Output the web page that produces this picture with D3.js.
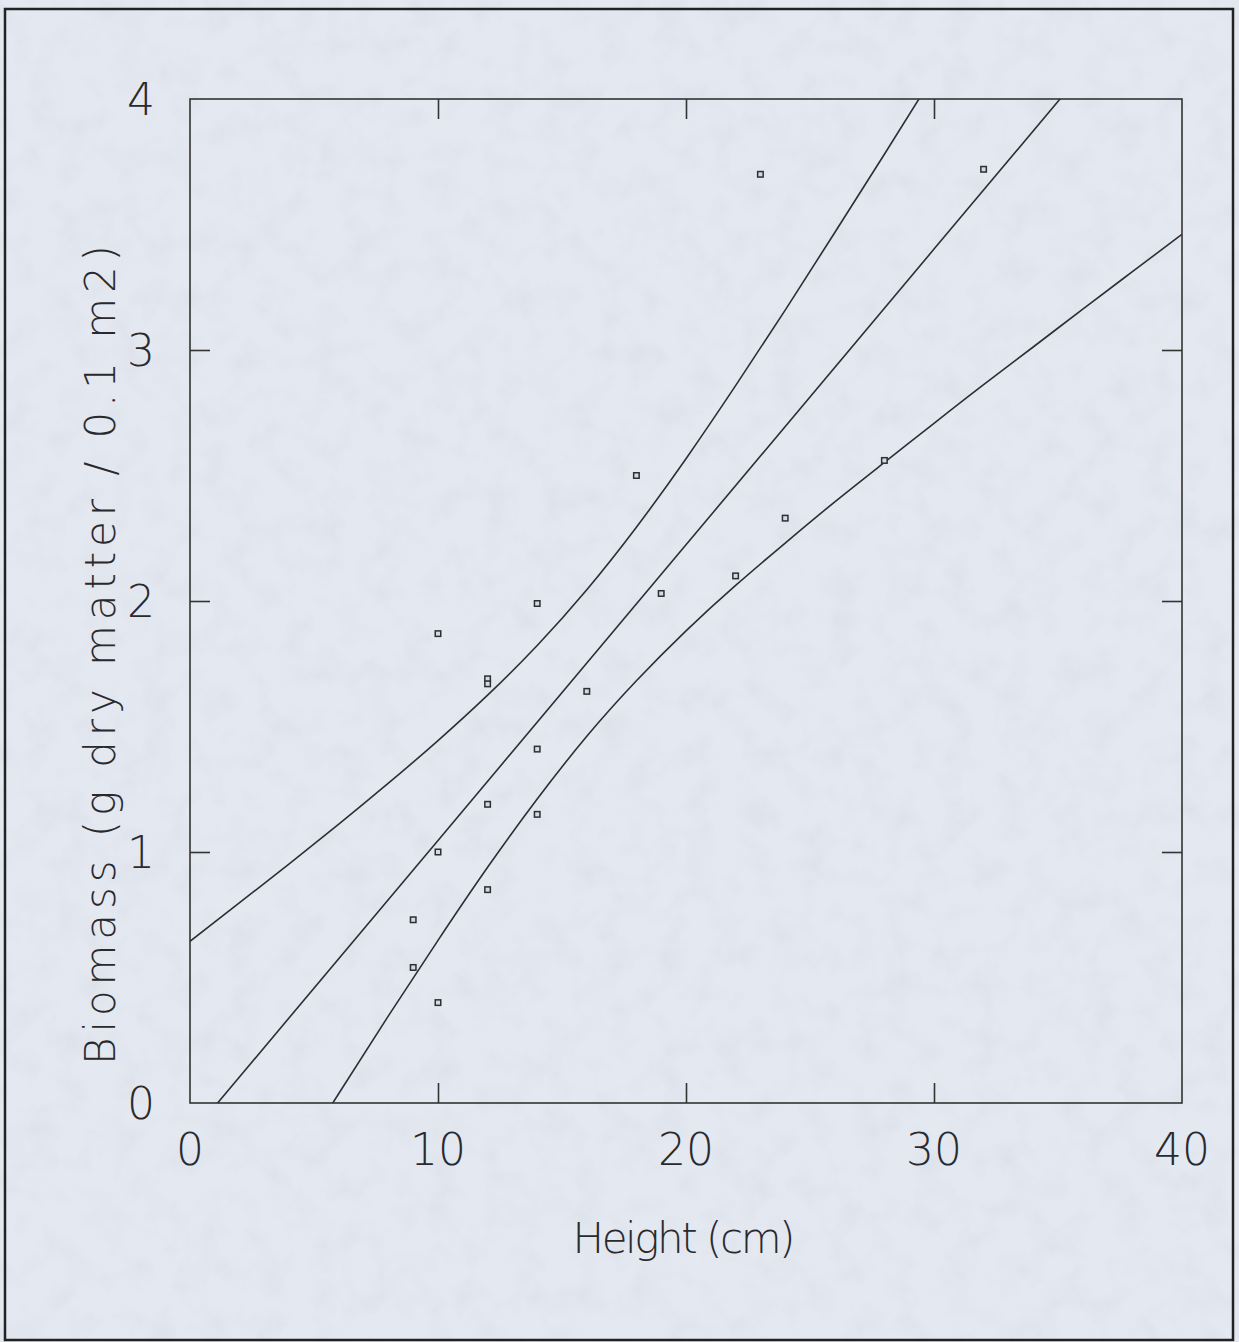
<!DOCTYPE html>
<html lang="en">
<head>
<meta charset="UTF-8">
<title>Biomass vs height</title>
<script src="https://d3js.org/d3.v7.min.js"></script>
<style>
  html, body { margin: 0; padding: 0; background: #e1e5ee; }
  svg { display: block; }
  text { font-family: "DejaVu Sans", "Lato", sans-serif; font-weight: 200; fill: #2a2a2e; }
</style>
</head>
<body>
<div id="chart"></div>
<script>
// observed points (height in cm, biomass in g / 0.1 m2)
const heights = [9, 9, 10, 10, 10, 12, 12, 12, 12, 14, 14, 14, 16, 18, 19, 22, 23, 24, 28, 32];
const biomass = [0.73, 0.54, 1.87, 1.00, 0.40, 1.69, 1.67, 1.19, 0.85, 1.99, 1.41, 1.15, 1.64, 2.50, 2.03, 2.10, 3.70, 2.33, 2.56, 3.72];

// fitted line and the two band curves
const fitX = [0, 10, 20, 30, 40];
const fitY = [-0.131, 1.046, 2.224, 3.402, 4.579];

const upperX = [0, 2, 4, 6, 8, 10, 12, 14, 16, 18, 20, 22, 24, 26, 28, 30];
const upperY = [0.644, 0.798, 0.953, 1.111, 1.274, 1.444, 1.625, 1.823, 2.045, 2.294, 2.567, 2.858, 3.159, 3.468, 3.780, 4.096];

const lowerX = [4, 6, 8, 10, 12, 14, 16, 18, 20, 22, 24, 26, 28, 30, 32, 34, 36, 38, 40];
const lowerY = [-0.275, 0.038, 0.347, 0.648, 0.939, 1.211, 1.461, 1.682, 1.881, 2.062, 2.231, 2.395, 2.552, 2.708, 2.862, 3.012, 3.163, 3.312, 3.461];

const xTicks = [0, 10, 20, 30, 40];
const yTicks = [0, 1, 2, 3, 4];
const xTitle = "Height (cm)";
const yTitle = "Biomass (g dry matter / 0.1 m2)";

const W = 1239, H = 1342;
const m = { left: 190, right: 1182, top: 99, bottom: 1103 };

const svg = d3.select("#chart").append("svg")
    .attr("width", W)
    .attr("height", H);

// paper background with a faint mottled grain
const defs = svg.append("defs");
const grain = defs.append("filter").attr("id", "grain")
    .attr("x", 0).attr("y", 0).attr("width", "100%").attr("height", "100%");
grain.append("feTurbulence")
    .attr("type", "fractalNoise")
    .attr("baseFrequency", 0.035)
    .attr("numOctaves", 3)
    .attr("seed", 7);
grain.append("feColorMatrix")
    .attr("type", "matrix")
    .attr("values", "0 0 0 0 0.55  0 0 0 0 0.58  0 0 0 0 0.66  0 0 0 -1.1 0.62");

svg.append("rect")
    .attr("width", W).attr("height", H)
    .attr("fill", "#e4e8f0");
svg.append("rect")
    .attr("width", W).attr("height", H)
    .attr("filter", "url(#grain)")
    .attr("opacity", 0.35);

// outer frame of the page
svg.append("rect")
    .attr("x", 5).attr("y", 9)
    .attr("width", 1228).attr("height", 1331)
    .attr("fill", "none")
    .attr("stroke", "#222")
    .attr("stroke-width", 2.5);

const x = d3.scaleLinear().domain([0, 40]).range([m.left, m.right]);
const y = d3.scaleLinear().domain([0, 4]).range([m.bottom, m.top]);

defs.append("clipPath").attr("id", "plot-clip")
  .append("rect")
    .attr("x", m.left).attr("y", m.top)
    .attr("width", m.right - m.left).attr("height", m.bottom - m.top);

// axes, ticks pointing inward on all four sides
const tickLen = 20;
const axisStyle = g => {
  g.select(".domain").remove();
  g.selectAll(".tick line").attr("stroke", "#333").attr("stroke-width", 1.6);
  g.selectAll(".tick text").remove();
};

svg.append("g").attr("transform", `translate(0,${m.bottom})`)
    .call(d3.axisBottom(x).tickValues(xTicks.slice(1, -1)).tickSizeInner(-tickLen).tickSizeOuter(0))
    .call(axisStyle);
svg.append("g").attr("transform", `translate(0,${m.top})`)
    .call(d3.axisTop(x).tickValues(xTicks.slice(1, -1)).tickSizeInner(-tickLen).tickSizeOuter(0))
    .call(axisStyle);
svg.append("g").attr("transform", `translate(${m.left},0)`)
    .call(d3.axisLeft(y).tickValues(yTicks.slice(1, -1)).tickSizeInner(-tickLen).tickSizeOuter(0))
    .call(axisStyle);
svg.append("g").attr("transform", `translate(${m.right},0)`)
    .call(d3.axisRight(y).tickValues(yTicks.slice(1, -1)).tickSizeInner(-tickLen).tickSizeOuter(0))
    .call(axisStyle);

svg.append("rect")
    .attr("x", m.left).attr("y", m.top)
    .attr("width", m.right - m.left).attr("height", m.bottom - m.top)
    .attr("fill", "none")
    .attr("stroke", "#333")
    .attr("stroke-width", 1.6);

// tick labels
svg.append("g").selectAll("text")
  .data(xTicks)
  .join("text")
    .attr("x", d => x(d))
    .attr("y", 1165)
    .attr("text-anchor", "middle")
    .attr("font-size", 44)
    .text(d => d);

svg.append("g").selectAll("text")
  .data(yTicks)
  .join("text")
    .attr("x", 155)
    .attr("y", d => y(d))
    .attr("dy", "0.36em")
    .attr("text-anchor", "end")
    .attr("font-size", 44)
    .text(d => d);

// axis titles
svg.append("text")
    .attr("x", 684)
    .attr("y", 1253)
    .attr("text-anchor", "middle")
    .attr("font-size", 42)
    .attr("textLength", 223)
    .attr("lengthAdjust", "spacing")
    .text(xTitle);

svg.append("text")
    .attr("transform", "translate(115,655) rotate(-90)")
    .attr("text-anchor", "middle")
    .attr("font-size", 42)
    .attr("textLength", 820)
    .attr("lengthAdjust", "spacing")
    .text(yTitle);

// curves
const plot = svg.append("g").attr("clip-path", "url(#plot-clip)");

const line = d3.line()
    .x(d => x(d[0]))
    .y(d => y(d[1]))
    .curve(d3.curveNatural);

const curves = [
  d3.zip(upperX, upperY),
  d3.zip(fitX, fitY),
  d3.zip(lowerX, lowerY)
];

plot.selectAll("path.curve")
  .data(curves)
  .join("path")
    .attr("class", "curve")
    .attr("d", line)
    .attr("fill", "none")
    .attr("stroke", "#2e2e33")
    .attr("stroke-width", 1.6);

// data points, small hollow squares
const s = 5.5;
plot.selectAll("rect.pt")
  .data(d3.zip(heights, biomass))
  .join("rect")
    .attr("class", "pt")
    .attr("x", d => x(d[0]) - s / 2)
    .attr("y", d => y(d[1]) - s / 2)
    .attr("width", s)
    .attr("height", s)
    .attr("fill", "#d5d9e3")
    .attr("stroke", "#2e2e33")
    .attr("stroke-width", 1.5);
</script>
</body>
</html>
